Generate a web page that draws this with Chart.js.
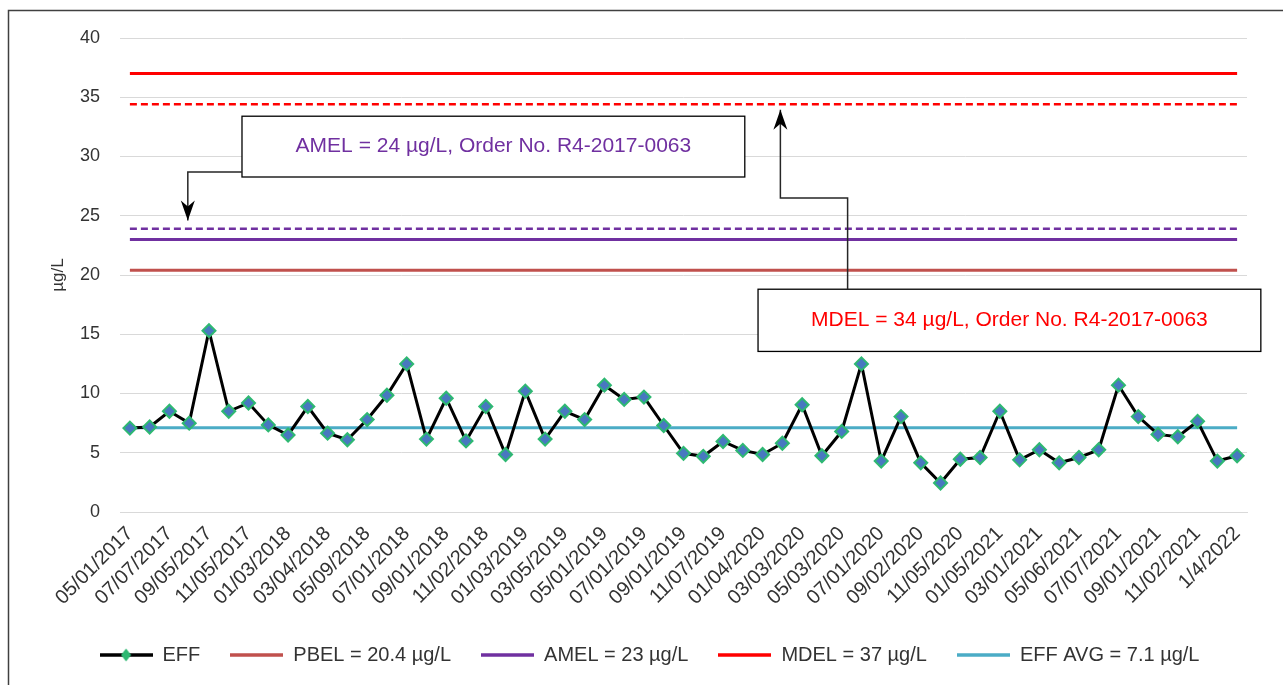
<!DOCTYPE html>
<html><head><meta charset="utf-8">
<script src="https://cdn.jsdelivr.net/npm/chart.js@4.4.1/dist/chart.umd.min.js"></script>
<style>html,body{margin:0;padding:0;background:#fff;}canvas{display:block}</style>
</head><body>
<canvas id="c" width="1283" height="685"></canvas>
<script>
// ---- data ----
const tickLabels = ['05/01/2017','07/07/2017','09/05/2017','11/05/2017','01/03/2018','03/04/2018','05/09/2018','07/01/2018','09/01/2018','11/02/2018','01/03/2019','03/05/2019','05/01/2019','07/01/2019','09/01/2019','11/07/2019','01/04/2020','03/03/2020','05/03/2020','07/01/2020','09/02/2020','11/05/2020','01/05/2021','03/01/2021','05/06/2021','07/07/2021','09/01/2021','11/02/2021','1/4/2022'];
const effValues = [7.08,7.17,8.5,7.5,15.3,8.5,9.2,7.35,6.5,8.9,6.65,6.1,7.8,9.85,12.5,6.15,9.6,6.0,8.9,4.85,10.2,6.15,8.5,7.8,10.7,9.5,9.7,7.3,4.95,4.7,5.95,5.2,4.85,5.8,9.05,4.75,6.8,12.5,4.3,8.05,4.15,2.45,4.45,4.6,8.5,4.4,5.25,4.15,4.6,5.25,10.7,8.05,6.55,6.35,7.65,4.3,4.75];
const seriesNames = ['EFF','PBEL = 20.4 µg/L','AMEL = 23 µg/L','MDEL = 37 µg/L','EFF AVG = 7.1 µg/L'];
const limitValues = [20.4, 23, 37, 7.1];        // PBEL, AMEL, MDEL, EFF AVG
const orderValues = [23.9, 34.4];               // AMEL order (24), MDEL order (34) dashed lines
const calloutTexts = ['AMEL = 24 µg/L, Order No. R4-2017-0063','MDEL = 34 µg/L, Order No. R4-2017-0063'];
const yTicks = {min:0, max:40, step:5};

// categories: one per month, labelled every other month
const categories = [];
tickLabels.forEach((l,i)=>{ categories.push(l); if(i<tickLabels.length-1) categories.push(''); });
const flat = v => categories.map(()=>v);

const FONT = "'Liberation Sans', Arial, sans-serif";
const TXT = '#333333';

// legend swatches
function swatch(color, marker){
  const c = document.createElement('canvas'); c.width = 53; c.height = 16;
  const g = c.getContext('2d');
  g.strokeStyle = color; g.lineWidth = 3.5; g.beginPath(); g.moveTo(0,8); g.lineTo(53,8); g.stroke();
  if(marker){ g.fillStyle='#2eb872'; g.beginPath(); g.moveTo(26.5,1.5); g.lineTo(31.5,8); g.lineTo(26.5,14.5); g.lineTo(21.5,8); g.closePath(); g.fill(); }
  return c;
}

const colors = ['#000000','#c0504d','#7030a0','#ff0000','#4bacc6'];

const datasets = [
  {label:seriesNames[0], data:effValues, borderColor:'#000', borderWidth:3, pointStyle:'rectRot', pointRadius:6.5, pointBorderWidth:2, pointBackgroundColor:'#4878c0', pointBorderColor:'#2eb872', legendImg:swatch('#000',true)},
  {label:seriesNames[1], data:flat(limitValues[0]), borderColor:colors[1], borderWidth:3, pointRadius:0, legendImg:swatch(colors[1])},
  {label:seriesNames[2], data:flat(limitValues[1]), borderColor:colors[2], borderWidth:3, pointRadius:0, legendImg:swatch(colors[2])},
  {label:seriesNames[3], data:flat(limitValues[2]), borderColor:colors[3], borderWidth:3, pointRadius:0, legendImg:swatch(colors[3])},
  {label:seriesNames[4], data:flat(limitValues[3]), borderColor:colors[4], borderWidth:3, pointRadius:0, legendImg:swatch(colors[4])},
  {label:'AMEL order', data:flat(orderValues[0]), borderColor:colors[2], borderWidth:2.5, borderDash:[7,4], pointRadius:0, hideLegend:true},
  {label:'MDEL order', data:flat(orderValues[1]), borderColor:colors[3], borderWidth:2.5, borderDash:[7,4], pointRadius:0, hideLegend:true}
];

// callouts in data coordinates (category index, value)
const callouts = [
  {text:calloutTexts[0], color:'#7030a0', box:[5.67,31.1,33.4,28.27], path:[[5.67,28.7],[2.93,28.7],[2.93,24.6]]},
  {text:calloutTexts[1], color:'#ff0000', box:[31.77,57.2,18.8,13.55], path:[[36.3,18.8],[36.3,26.5],[32.9,26.5],[32.9,33.95]]}
];

const framePlugin = {
  id:'frame',
  beforeDraw(chart){
    const g = chart.ctx; g.save();
    g.fillStyle='#fff'; g.fillRect(0,0,chart.width,chart.height);
    g.strokeStyle='#404040'; g.lineWidth=1.5;
    g.beginPath(); g.moveTo(8.5,chart.height); g.lineTo(8.5,10.5); g.lineTo(chart.width,10.5); g.stroke();
    g.restore();
  },
  afterLayout(chart){
    const l = chart.legend; if(l){ l.left += 2; l.right += 2; }
  }
};

const calloutPlugin = {
  id:'callouts',
  afterDatasetsDraw(chart){
    const g = chart.ctx, xs = chart.scales.x, ys = chart.scales.y;
    const px = v => xs.getPixelForValue(v), py = v => ys.getPixelForValue(v);
    g.save();
    callouts.forEach(c=>{
      const x0=px(c.box[0]), x1=px(c.box[1]), y0=py(c.box[2]), y1=py(c.box[3]);
      g.fillStyle='#fff'; g.fillRect(x0,y0,x1-x0,y1-y0);
      g.strokeStyle='#000'; g.lineWidth=1.3; g.strokeRect(x0,y0,x1-x0,y1-y0);
      g.fillStyle=c.color; g.font='21px '+FONT; g.textAlign='center'; g.textBaseline='middle';
      g.fillText(c.text,(x0+x1)/2,(y0+y1)/2);
      const pts = c.path.map(p=>[px(p[0]),py(p[1])]);
      g.strokeStyle='#262626'; g.lineWidth=1.5; g.beginPath();
      pts.forEach((p,i)=> i?g.lineTo(p[0],p[1]):g.moveTo(p[0],p[1]));
      const tip = pts[pts.length-1], prev = pts[pts.length-2];
      const dir = Math.sign(tip[1]-prev[1]);
      g.stroke();
      g.fillStyle='#000'; g.beginPath();
      g.moveTo(tip[0],tip[1]);
      g.lineTo(tip[0]-7,tip[1]-dir*20);
      g.lineTo(tip[0],tip[1]-dir*14);
      g.lineTo(tip[0]+7,tip[1]-dir*20);
      g.closePath(); g.fill();
    });
    g.restore();
  }
};

new Chart(document.getElementById('c'),{
  type:'line',
  data:{labels:categories, datasets},
  options:{
    responsive:false, animation:false, devicePixelRatio:1,
    layout:{padding:{left:48,right:36,top:38,bottom:10}},
    elements:{line:{tension:0}},
    plugins:{
      tooltip:{enabled:false},
      legend:{position:'bottom', labels:{
        font:{family:FONT,size:20}, color:TXT, usePointStyle:true, pointStyleWidth:53, padding:30,
        filter:(item,data)=>!data.datasets[item.datasetIndex].hideLegend,
        generateLabels(chart){
          return chart.data.datasets.map((d,i)=>({text:d.label, pointStyle:d.legendImg||'line', datasetIndex:i, hidden:false, strokeStyle:d.borderColor, fillStyle:d.borderColor, lineWidth:0, fontColor:TXT}));
        }
      }}
    },
    scales:{
      x:{
        offset:true,
        grid:{display:false}, border:{display:true,color:'#d9d9d9',width:1},
        ticks:{autoSkip:false, minRotation:45, maxRotation:45, color:TXT, font:{family:FONT,size:20}, padding:2},
        afterFit(s){ s.height = 103; }
      },
      y:{
        min:yTicks.min, max:yTicks.max,
        grid:{color:'#d9d9d9', lineWidth:1, drawTicks:false}, border:{display:false},
        ticks:{stepSize:yTicks.step, color:TXT, font:{family:FONT,size:18}, padding:20},
        title:{display:true, text:'µg/L', color:TXT, font:{family:FONT,size:17}, padding:0},
        afterFit(s){ s.width = 72; }
      }
    }
  },
  plugins:[framePlugin, calloutPlugin]
});
</script>
</body></html>
